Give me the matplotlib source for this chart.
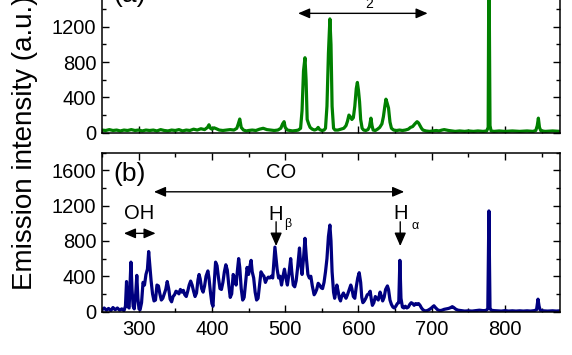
import numpy as np
import matplotlib
matplotlib.use("Agg")
import matplotlib.pyplot as plt
from matplotlib.ticker import MultipleLocator

plt.rcParams['font.family'] = ['Liberation Sans', 'DejaVu Sans']

# panel (a): green spectrum, wavelength (nm) and intensity (a.u.)
wl_a = [250, 255, 260, 265, 270, 275, 280, 285, 290, 295, 300, 305, 310, 315, 320,
        325, 330, 335, 340, 345, 350, 355, 360, 365, 370, 375, 380, 385, 390, 394,
        396, 398, 400, 403, 406, 410, 415, 420, 425, 430, 434, 436, 438, 440, 443,
        447, 450, 455, 460, 465, 470, 475, 480, 485, 490, 494, 496.5, 498.5, 500, 503,
        507, 510, 515, 518, 521, 523, 525, 527, 528.5, 530, 532, 534, 537, 540, 543,
        545, 547, 550, 553, 555, 557, 559, 561, 562.5, 564, 566, 568, 572, 576, 580,
        583, 585, 587, 589, 591, 593, 595, 597, 598.5, 600, 601.5, 603, 605, 607, 610,
        613, 615, 617, 618.5, 620, 623, 626, 629, 632, 634, 636, 637.5, 639, 641, 643,
        645, 648, 652, 656, 660, 664, 668, 671, 674, 677, 680, 682, 684, 686, 688,
        692, 697, 702, 706, 710, 714, 717, 720, 723, 727, 732, 738, 745, 750, 757,
        763, 770, 775, 777, 778, 779.5, 781, 785, 792, 800, 810, 820, 830, 838, 842,
        844, 845.5, 847, 849, 855, 865, 875]
int_a = [30, 25, 35, 25, 30, 20, 30, 25, 35, 25, 30, 20, 30, 25, 30,
         20, 35, 25, 20, 30, 25, 35, 20, 30, 25, 40, 30, 45, 35, 60,
         90, 50, 40, 55, 45, 30, 25, 30, 35, 30, 50, 100, 155, 60, 30,
         20, 25, 30, 25, 40, 50, 35, 30, 25, 30, 50, 100, 125, 60, 30,
         25, 20, 25, 30, 50, 250, 700, 850, 600, 150, 100, 60, 40, 30, 40,
         60, 35, 25, 30, 50, 300, 900, 1290, 1000, 300, 50, 30, 30, 40, 50,
         80, 130, 200, 180, 150, 170, 300, 500, 570, 480, 350, 150, 50, 30, 25,
         35, 70, 165, 80, 30, 25, 40, 60, 100, 180, 300, 380, 340, 280, 120,
         50, 30, 25, 30, 25, 30, 40, 60, 70, 100, 125, 110, 80, 50, 30,
         20, 15, 20, 25, 20, 30, 35, 30, 25, 20, 15, 20, 15, 20, 15,
         20, 15, 20, 60, 2100, 80, 20, 15, 20, 15, 20, 15, 20, 15, 25,
         80, 165, 60, 20, 15, 20, 15]

# panel (b): blue spectrum
wl_b = [250, 253, 256, 259, 262, 265, 268, 271, 274, 277, 280, 282, 283.5, 285, 287,
        289.5, 291, 292.5, 294, 296, 297.5, 299, 300.5, 302, 304, 306, 308, 310, 312, 313.7,
        315, 317, 319, 321, 323, 325, 327, 329, 331, 333, 335, 337, 339, 341, 343,
        345, 347, 349, 351, 353, 355, 357, 359, 361, 363, 365, 367, 369, 371, 373,
        375, 377, 379, 381, 382.5, 384, 386, 388, 390, 392, 394.5, 396, 398, 400, 401.5,
        403, 405, 407, 409, 411, 413, 415, 417, 419, 421, 423, 425, 427, 429, 431,
        433, 435, 436.5, 438, 440, 442, 444, 446, 448, 450, 452, 453.5, 455, 457, 459,
        461, 463, 465, 467, 469, 471, 473, 475, 477, 479, 481, 483, 484.5, 486, 487.5,
        489, 491, 493, 495, 497, 499, 501, 503, 505, 507.5, 509, 511, 513, 515, 517,
        519.5, 521, 523, 525, 527, 529, 531, 533, 535, 537, 539.5, 541, 543, 545, 547,
        549, 551, 553, 555, 557, 559, 561, 562.5, 564, 566, 567.5, 569, 570.5, 572, 574,
        575.5, 577, 579.5, 581, 583, 585, 587, 589.5, 591, 593, 595, 597, 599, 601, 603,
        604.5, 606, 608, 610, 612, 614, 616, 617.5, 619, 621, 623, 625, 627, 629.5, 631,
        633, 635, 637, 639.5, 641, 643, 645, 647, 649, 651, 653, 655, 656.5, 658, 660,
        662, 664, 666, 668, 670, 672, 674, 676, 678, 680, 682, 684, 686, 688, 690,
        692, 695, 698, 701, 703, 705, 708, 711, 714, 717, 720, 723, 726, 728, 730,
        733, 736, 740, 745, 750, 755, 760, 765, 770, 774, 776.5, 778, 779.5, 781, 785,
        790, 795, 800, 805, 810, 815, 820, 825, 830, 835, 840, 843, 845, 846.5, 848,
        852, 858, 865, 870, 875]
int_b = [20, 40, 15, 35, 10, 45, 20, 40, 15, 30, 10, 60, 340, 60, 40,
         560, 250, 60, 30, 200, 410, 150, 30, 20, 100, 330, 300, 420, 480, 680,
         550, 350, 200, 120, 130, 300, 290, 200, 130, 150, 200, 250, 340, 260, 140,
         110, 170, 190, 230, 220, 200, 250, 220, 240, 190, 170, 230, 300, 345, 300,
         230, 170, 210, 360, 420, 370, 260, 220, 290, 400, 460, 380, 220, 90, 60,
         300, 560, 520, 380, 260, 250, 330, 450, 530, 470, 300, 160, 200, 420, 380,
         300, 480, 600, 500, 260, 130, 160, 330, 500, 420, 520, 580, 450, 380, 220,
         130, 150, 300, 450, 420, 400, 330, 370, 390, 380, 400, 380, 560, 730, 600,
         480, 380, 400, 300, 400, 480, 380, 300, 420, 600, 450, 300, 280, 350, 500,
         720, 550, 420, 600, 830, 600, 420, 380, 400, 290, 190, 210, 250, 320, 300,
         270, 260, 330, 450, 600, 850, 980, 800, 450, 220, 150, 220, 300, 240, 150,
         120, 170, 210, 180, 150, 190, 240, 300, 260, 170, 150, 280, 380, 440, 330,
         160, 100, 120, 150, 190, 200, 230, 140, 70, 100, 170, 150, 130, 220, 180,
         120, 160, 250, 290, 250, 130, 80, 50, 40, 60, 90, 100, 580, 150, 50,
         40, 60, 40, 50, 80, 100, 90, 70, 90, 80, 90, 70, 40, 20, 10,
         5, 15, 30, 50, 65, 45, 20, 10, 15, 25, 30, 35, 45, 55, 45,
         25, 15, 10, 5, 8, 5, 10, 15, 10, 12, 30, 1140, 40, 15, 10,
         8, 5, 10, 5, 8, 5, 8, 5, 8, 5, 10, 20, 140, 60, 15,
         8, 5, 8, 5, 8]

xmin, xmax = 250, 875
ymin, ymax = 0, 1800

fig = plt.figure(figsize=(5.72, 3.55), dpi=100)
ax_b = fig.add_axes([0.1783, 0.1225, 0.8007, 0.4473])
# the upper panel runs past the top edge, as in the cropped original
ax_a = fig.add_axes([0.1783, 0.6262, 0.8007, 0.4473])

ax_a.plot(wl_a, int_a, color='#008000', lw=2.3, solid_joinstyle='round')
ax_b.plot(wl_b, int_b, color='#000080', lw=2.3, solid_joinstyle='round')

for ax in (ax_a, ax_b):
    ax.set_xlim(xmin, xmax)
    ax.set_ylim(ymin, ymax)
    ax.xaxis.set_major_locator(MultipleLocator(100))
    ax.xaxis.set_minor_locator(MultipleLocator(50))
    ax.yaxis.set_major_locator(MultipleLocator(400))
    ax.yaxis.set_minor_locator(MultipleLocator(200))
    ax.tick_params(which='both', direction='in', top=True, right=True, width=1.0,
                   labelsize=14.5)
    ax.tick_params(which='major', length=5)
    ax.tick_params(which='minor', length=3)
    ax.tick_params(axis='x', pad=6)
    ax.tick_params(axis='y', pad=4)
    for s in ax.spines.values():
        s.set_linewidth(1.1)

ax_a.tick_params(axis='x', labelbottom=False)

arrow2 = dict(arrowstyle='<|-|>,head_length=0.7,head_width=0.3', color='k', lw=1.0,
              shrinkA=0, shrinkB=0)
arrow1 = dict(arrowstyle='-|>,head_length=0.8,head_width=0.35', color='k', lw=1.0,
              shrinkA=0, shrinkB=0)

# panel labels
ax_a.text(288, 1482, '(a)', fontsize=19, ha='center', va='baseline')
ax_b.text(288, 1482, '(b)', fontsize=19, ha='center', va='baseline')

# N2 band
ax_a.annotate('', xy=(517.6, 1353), xytext=(694.4, 1353), arrowprops=arrow2)
ax_a.text(598.5, 1520, 'N', fontsize=14.5, ha='center', va='baseline')
ax_a.text(609, 1413, '2', fontsize=10, ha='left', va='baseline')

# CO band
ax_b.annotate('', xy=(320.9, 1357), xytext=(662.4, 1357), arrowprops=arrow2)
ax_b.text(494.4, 1509, 'CO', fontsize=14.5, ha='center', va='baseline')

# OH band
ax_b.annotate('', xy=(279.9, 886), xytext=(323.2, 886), arrowprops=arrow2)
ax_b.text(300.4, 1045, 'OH', fontsize=14.5, ha='center', va='baseline')

# H beta
ax_b.annotate('', xy=(487.6, 742), xytext=(487.6, 1017), arrowprops=arrow1)
ax_b.text(487.6, 1037, 'H', fontsize=14.5, ha='center', va='baseline')
ax_b.text(498.5, 955, '\u03b2', fontsize=9, ha='left', va='baseline')

# H alpha
ax_b.annotate('', xy=(657.0, 742), xytext=(657.0, 1017), arrowprops=arrow1)
ax_b.text(657.9, 1048, 'H', fontsize=14.5, ha='center', va='baseline')
ax_b.text(672.5, 935, '\u03b1', fontsize=9, ha='left', va='baseline')

fig.text(0.044, 0.598, 'Emission intensity (a.u.)', fontsize=20, rotation=90,
         ha='center', va='center')

fig.savefig('out.png', dpi=100)
